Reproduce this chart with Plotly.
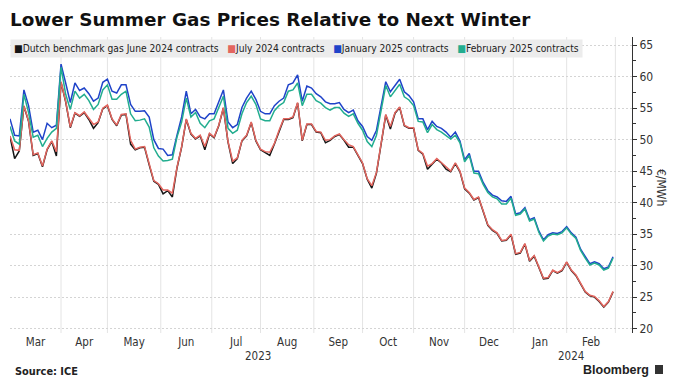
import pandas as pd
import plotly.graph_objects as go

# ---------------- data (every 2nd trading day, 2 Mar 2023 -> 29 Feb 2024), EUR/MWh ----------------
START = "2023-03-02"
END = "2024-03-01"
trading_days = pd.bdate_range(START, END)
dates = trading_days[::2]

june24 = [
    50.5, 47.0, 48.2, 55.3, 52.9, 47.5, 47.8, 45.7, 48.4, 49.7,
    47.4, 59.1, 56.0, 51.9, 54.2, 53.7, 54.3, 53.2, 51.8, 52.7,
    54.9, 55.4, 53.2, 52.2, 53.9, 54.0, 49.3, 48.4, 48.7, 48.8,
    46.0, 43.4, 42.9, 41.4, 41.9, 40.9, 45.5, 48.8, 53.2, 50.9,
    50.1, 50.6, 48.4, 50.9, 50.3, 52.2, 55.0, 49.6, 46.2, 47.0,
    49.8, 50.6, 52.7, 49.8, 48.4, 48.0, 47.5, 49.3, 51.4, 53.2,
    53.2, 53.5, 55.8, 49.8, 52.4, 52.4, 51.2, 51.1, 49.5, 49.9,
    50.5, 50.8, 49.9, 48.8, 48.8, 47.5, 46.2, 43.7, 42.3, 44.7,
    49.1, 53.9, 51.7, 54.2, 55.1, 52.2, 51.8, 51.8, 48.3, 47.7,
    45.3, 46.1, 46.9, 46.3, 45.3, 44.9, 46.2, 44.9, 42.2, 41.5,
    40.4, 40.8, 38.7, 36.4, 35.6, 35.1, 33.9, 34.0, 34.9, 31.8,
    32.0, 33.4, 30.7, 31.5, 29.7, 27.9, 28.0, 29.2, 28.8, 29.2,
    30.5, 29.2, 28.4, 27.2, 25.8, 25.2, 25.0, 24.3, 23.4, 24.2,
    25.8,
]

july24 = [
    50.6, 48.4, 48.3, 55.4, 53.0, 47.6, 47.9, 45.8, 48.5, 49.8,
    48.1, 59.2, 56.1, 52.0, 54.3, 53.8, 54.4, 53.3, 52.4, 52.8,
    55.0, 55.5, 53.3, 52.3, 54.0, 54.1, 49.9, 48.5, 48.8, 48.9,
    46.1, 43.5, 43.0, 42.0, 42.0, 41.5, 45.6, 48.9, 53.3, 51.0,
    50.2, 50.7, 48.9, 51.0, 50.4, 52.3, 55.1, 49.7, 46.6, 47.1,
    49.9, 50.7, 52.8, 49.9, 48.5, 48.1, 48.0, 49.4, 51.5, 53.3,
    53.3, 53.6, 55.9, 49.9, 52.5, 52.5, 51.3, 51.2, 49.9, 50.0,
    50.6, 50.9, 50.0, 49.2, 48.9, 47.6, 46.3, 43.8, 42.7, 44.8,
    49.2, 54.0, 52.1, 54.3, 55.2, 52.3, 51.9, 51.9, 48.4, 47.8,
    45.8, 46.2, 47.0, 46.4, 45.7, 45.0, 46.3, 45.0, 42.3, 41.6,
    40.5, 40.9, 38.8, 36.5, 35.7, 35.2, 34.0, 34.1, 35.0, 31.9,
    32.1, 33.5, 30.8, 31.6, 29.8, 28.0, 28.1, 29.3, 28.9, 29.3,
    30.6, 29.3, 28.5, 27.3, 25.9, 25.3, 25.1, 24.4, 23.5, 24.3,
    25.9,
]

jan25 = [
    53.3, 50.7, 50.6, 57.9, 55.4, 51.2, 51.5, 50.0, 52.6, 51.9,
    52.3, 62.0, 59.0, 55.9, 59.0, 57.8, 58.2, 57.3, 56.1, 56.6,
    59.1, 59.6, 57.7, 57.4, 58.7, 58.7, 55.6, 54.5, 54.5, 54.6,
    53.6, 50.0, 48.6, 48.5, 47.5, 47.6, 50.7, 53.6, 57.7, 54.1,
    54.8, 53.6, 53.3, 54.1, 54.1, 56.1, 57.9, 52.8, 51.9, 52.4,
    55.1, 56.6, 57.7, 56.4, 54.5, 54.1, 54.1, 55.4, 56.1, 56.6,
    58.7, 59.0, 60.3, 56.1, 58.5, 58.2, 57.3, 56.8, 56.0, 55.7,
    55.7, 55.9, 54.8, 54.3, 54.7, 53.0, 52.1, 50.5, 49.9, 51.5,
    55.1, 59.2, 57.6, 58.7, 59.6, 57.6, 57.0, 56.0, 53.3, 53.3,
    51.6, 52.9, 52.1, 51.8, 51.2, 50.4, 51.2, 49.8, 46.8, 47.8,
    45.0, 45.0, 43.2, 41.9, 41.2, 40.9, 40.3, 40.2, 41.0, 38.2,
    38.4, 39.2, 37.3, 37.6, 35.5, 34.1, 34.9, 35.2, 35.1, 35.4,
    36.2, 35.2, 34.5, 32.6, 31.4, 30.3, 30.6, 30.3, 29.5, 29.8,
    31.4,
]

feb25 = [
    52.1, 49.8, 49.3, 57.2, 54.3, 50.4, 50.7, 48.9, 50.2, 51.2,
    51.8, 61.5, 57.2, 54.8, 57.7, 56.6, 57.2, 56.2, 54.8, 55.6,
    57.9, 58.7, 56.4, 56.4, 57.2, 57.7, 54.1, 53.0, 53.1, 53.3,
    52.0, 48.7, 47.4, 46.6, 46.7, 46.9, 50.4, 52.8, 56.6, 53.6,
    54.3, 52.6, 51.9, 53.0, 53.3, 55.1, 56.9, 51.8, 51.0, 51.5,
    54.1, 55.9, 56.9, 55.6, 53.3, 53.0, 53.0, 54.6, 55.4, 55.9,
    57.7, 57.9, 59.0, 55.4, 57.2, 57.2, 56.2, 55.8, 55.1, 54.7,
    55.1, 55.1, 54.2, 53.7, 54.1, 52.6, 51.5, 49.7, 48.9, 50.7,
    55.0, 58.6, 56.8, 57.9, 58.8, 56.8, 56.3, 55.4, 52.9, 52.8,
    51.1, 52.4, 51.6, 51.2, 50.7, 50.1, 50.7, 49.5, 46.5, 47.5,
    44.7, 44.6, 42.9, 41.6, 40.9, 40.6, 39.8, 39.8, 40.7, 38.0,
    38.2, 39.0, 37.1, 37.4, 35.3, 33.9, 34.7, 35.0, 34.9, 35.2,
    36.0, 35.0, 34.3, 32.4, 31.2, 30.1, 30.4, 30.1, 29.3, 29.6,
    31.2,
]

series_names = [
    "Dutch benchmark gas June 2024 contracts",
    "July 2024 contracts",
    "January 2025 contracts",
    "February 2025 contracts",
]
series_values = [june24, july24, jan25, feb25]
month_labels = ["Mar", "Apr", "May", "Jun", "Jul", "Aug", "Sep", "Oct", "Nov", "Dec", "Jan", "Feb"]
year_labels = ["2023", "2024"]
year_dates = ["2023-07-31", "2024-02-05"]

# ---------------- styling ----------------
colors = ["#151515", "#e3665f", "#1f43c9", "#22ad8f"]
COND = "DejaVu Sans Condensed, DejaVu Sans, sans-serif"
TXT = "#333333"

W, H = 676, 391
L, R, T, B = 10, 44, 37, 58
PW, PH = W - L - R, H - T - B


def px_x(px):
    return (px - L) / PW


def px_y(py):
    return (H - B - py) / PH


# month label positions (centre of each month's trading days) and month boundaries
label_pos, month_starts = [], []
for _, grp in pd.Series(trading_days, index=trading_days).groupby(trading_days.to_period("M")):
    n = len(grp)
    month_starts.append(grp.iloc[0])
    if n % 2 == 0:
        label_pos.append(grp.iloc[n // 2])
    else:
        label_pos.append(grp.iloc[n // 2] + pd.Timedelta(hours=12))
label_pos = label_pos[:len(month_labels)]
month_starts = month_starts[1:]

fig = go.Figure()
for name, vals, col in zip(series_names, series_values, colors):
    n = min(len(vals), len(dates))
    fig.add_trace(go.Scatter(
        x=dates[:n], y=vals[:n], mode="lines", name=name,
        line=dict(color=col, width=1.5), showlegend=False,
    ))

legend_text = "   ".join(
    f"<span style='color:{c}'>■</span>{n}" for n, c in zip(series_names, colors)
)

annotations = [
    dict(text=legend_text, xref="paper", yref="paper", x=px_x(10), y=px_y(48.5),
         xanchor="left", yanchor="middle", showarrow=False, align="left",
         font=dict(family=COND, size=10.2, color="#222"),
         bgcolor="#ececec", borderpad=3),
    dict(text="€/MWh", xref="paper", yref="paper", x=px_x(661), y=px_y(187),
         xanchor="center", yanchor="middle", showarrow=False, textangle=90,
         font=dict(family=COND, size=12, color=TXT)),
    dict(text="<b>Source: ICE</b>", xref="paper", yref="paper", x=px_x(13), y=px_y(371),
         xanchor="left", yanchor="middle", showarrow=False,
         font=dict(family="DejaVu Sans, sans-serif", size=9.8, color="#222")),
    dict(text="<b>Bloomberg</b>", xref="paper", yref="paper", x=px_x(651), y=px_y(370),
         xanchor="right", yanchor="middle", showarrow=False,
         font=dict(family="Liberation Sans, Arial, sans-serif", size=12.5, color="#222")),
]
for lab, d in zip(year_labels, year_dates):
    annotations.append(dict(text=lab, xref="x", yref="paper", x=d, y=px_y(356),
                            xanchor="center", yanchor="middle", showarrow=False,
                            font=dict(family=COND, size=11.5, color=TXT)))

shapes = [dict(type="line", xref="x", yref="paper", x0=d, x1=d, y0=0, y1=1,
               line=dict(color="#e4e4e4", width=1), layer="below")
          for d in month_starts]
shapes.append(dict(type="rect", xref="paper", yref="paper",
                   x0=px_x(655), x1=px_x(663), y0=px_y(374), y1=px_y(365),
                   fillcolor="#333", line=dict(width=0)))

fig.update_layout(
    width=W, height=H,
    margin=dict(l=L, r=R, t=T, b=B),
    paper_bgcolor="white", plot_bgcolor="white",
    showlegend=False,
    title=dict(text="<b>Lower Summer Gas Prices Relative to Next Winter</b>",
               x=L / W, xref="container", xanchor="left",
               y=1 - 20 / H, yanchor="middle",
               font=dict(family="DejaVu Sans, sans-serif", size=18.4, color="#111")),
    annotations=annotations,
    shapes=shapes,
)

fig.update_xaxes(
    type="date",
    range=["2023-03-02", "2024-03-12 04:00"],
    rangebreaks=[dict(bounds=["sat", "mon"])],
    tickmode="array", tickvals=label_pos, ticktext=month_labels,
    ticks="", showline=False, zeroline=False, showgrid=False,
    tickfont=dict(family=COND, size=11.5, color=TXT),
)

fig.update_yaxes(
    side="right", range=[19.3, 66.3], dtick=5, tick0=0,
    showline=True, linecolor="#333", linewidth=1, mirror=False,
    ticks="outside", ticklen=4, tickcolor="#333",
    minor=dict(dtick=2.5, ticks="outside", ticklen=3, tickcolor="#333", showgrid=False),
    showgrid=True, gridcolor="#d4d4d4", griddash="2px,2px", gridwidth=1,
    zeroline=False,
    tickfont=dict(family=COND, size=12, color=TXT),
)

fig.write_html("out.html", config={"displayModeBar": False},
               post_script="document.body.style.margin='0';")
